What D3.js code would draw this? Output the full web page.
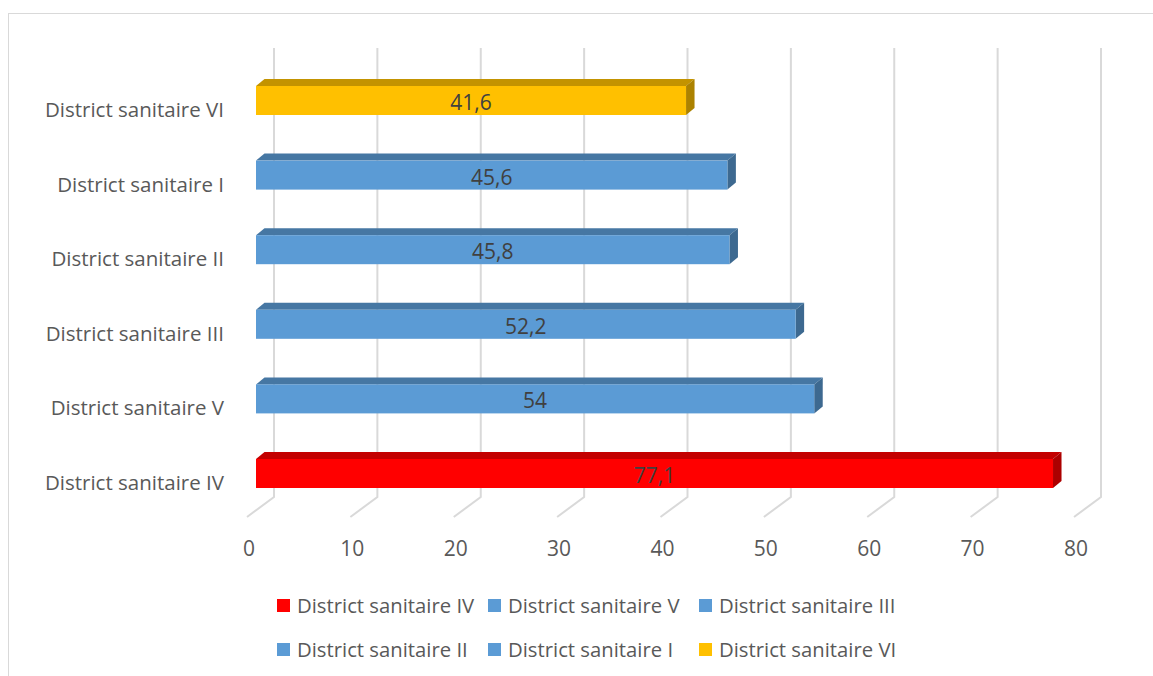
<!DOCTYPE html>
<html>
<head>
<meta charset="utf-8">
<script src="https://cdn.jsdelivr.net/npm/d3@7.8.5/dist/d3.min.js"></script>
<style>
  html, body { margin: 0; padding: 0; background: #fff; }
  svg { display: block; font-family: "Open Sans", "Noto Sans", sans-serif; }
</style>
</head>
<body>
<svg id="chart" width="1153" height="676"></svg>
<script>
// Données (de haut en bas)
const categories = ["District sanitaire VI", "District sanitaire I", "District sanitaire II",
                    "District sanitaire III", "District sanitaire V", "District sanitaire IV"];
const values = [41.6, 45.6, 45.8, 52.2, 54, 77.1];
const labels = ["41,6", "45,6", "45,8", "52,2", "54", "77,1"];
const barColors = ["#ffc000", "#5b9bd5", "#5b9bd5", "#5b9bd5", "#5b9bd5", "#ff0000"];
const ticks = [0, 10, 20, 30, 40, 50, 60, 70, 80];
const legendOrder = ["District sanitaire IV", "District sanitaire V", "District sanitaire III",
                     "District sanitaire II", "District sanitaire I", "District sanitaire VI"];

const svg = d3.select('#chart');

// cadre du graphique
svg.append('rect')
    .attr('x', 8.5).attr('y', 13.5)
    .attr('width', 1160).attr('height', 680)
    .attr('fill', 'none').attr('stroke', '#d9d9d9').attr('stroke-width', 1);

// Échelles : paroi du fond, plan des barres, bord avant du sol
const xBack = d3.scaleLinear().domain([0, 80]).range([274, 1101]);
const xBar = d3.scaleLinear().domain([0, 80]).range([256, 1083]);
const xFloor = d3.scaleLinear().domain([0, 80]).range([247, 1074]);
const yMid = d3.scalePoint().domain(categories).range([100.5, 473.5]);

const gridTop = 48, gridBottom = 497, floorFront = 517;
const barH = 29, depthX = 8.5, depthY = 7;

// Quadrillage vertical + lignes du sol
const grid = svg.append('g');
ticks.forEach(t => {
    grid.append('path')
        .attr('d', `M${xBack(t)},${gridTop} L${xBack(t)},${gridBottom} L${xFloor(t)},${floorFront}`)
        .attr('fill', 'none')
        .attr('stroke', '#d9d9d9')
        .attr('stroke-width', 2);
});

// Étiquettes de l'axe
svg.append('g').selectAll('text')
    .data(ticks).join('text')
    .attr('x', d => xFloor(d) + 2)
    .attr('y', 556)
    .attr('text-anchor', 'middle')
    .attr('font-size', 21)
    .attr('fill', '#595959')
    .text(d => d);

// Catégories
svg.append('g').selectAll('text')
    .data(categories).join('text')
    .attr('x', 224)
    .attr('y', d => yMid(d) + 16.5)
    .attr('text-anchor', 'end')
    .attr('font-size', 20.5)
    .attr('fill', '#595959')
    .text(d => d);

// Barres 3D
const bars = svg.append('g').selectAll('g')
    .data(categories).join('g');

bars.each(function(cat, i) {
    const g = d3.select(this);
    const x0 = xBar(0), x1 = xBar(values[i]);
    const yt = yMid(cat) - barH / 2, yb = yt + barH;
    const base = d3.color(barColors[i]);
    // dessus
    g.append('path')
        .attr('d', `M${x0},${yt} L${x0 + depthX},${yt - depthY} L${x1 + depthX},${yt - depthY} L${x1},${yt} Z`)
        .attr('fill', base.darker(0.75));
    // côté
    g.append('path')
        .attr('d', `M${x1},${yt} L${x1 + depthX},${yt - depthY} L${x1 + depthX},${yb - depthY} L${x1},${yb} Z`)
        .attr('fill', base.darker(1.1));
    // face avant
    g.append('rect')
        .attr('x', x0).attr('y', yt)
        .attr('width', x1 - x0).attr('height', barH)
        .attr('fill', base);
    // valeur
    g.append('text')
        .attr('x', (x0 + x1) / 2)
        .attr('y', yMid(cat) + 9.5)
        .attr('text-anchor', 'middle')
        .attr('font-size', 21)
        .attr('fill', '#404040')
        .text(labels[i]);
});

// Légende
const legendX = [277, 488, 699];
const legendY = [613, 657];
const legend = svg.append('g').selectAll('g')
    .data(legendOrder).join('g')
    .attr('transform', (d, i) => `translate(${legendX[i % 3]},${legendY[Math.floor(i / 3)]})`);

legend.append('rect')
    .attr('x', 0).attr('y', -14)
    .attr('width', 13).attr('height', 13)
    .attr('fill', d => barColors[categories.indexOf(d)]);

legend.append('text')
    .attr('x', 20).attr('y', 0)
    .attr('font-size', 20.3)
    .attr('fill', '#595959')
    .text(d => d);
</script>
</body>
</html>
